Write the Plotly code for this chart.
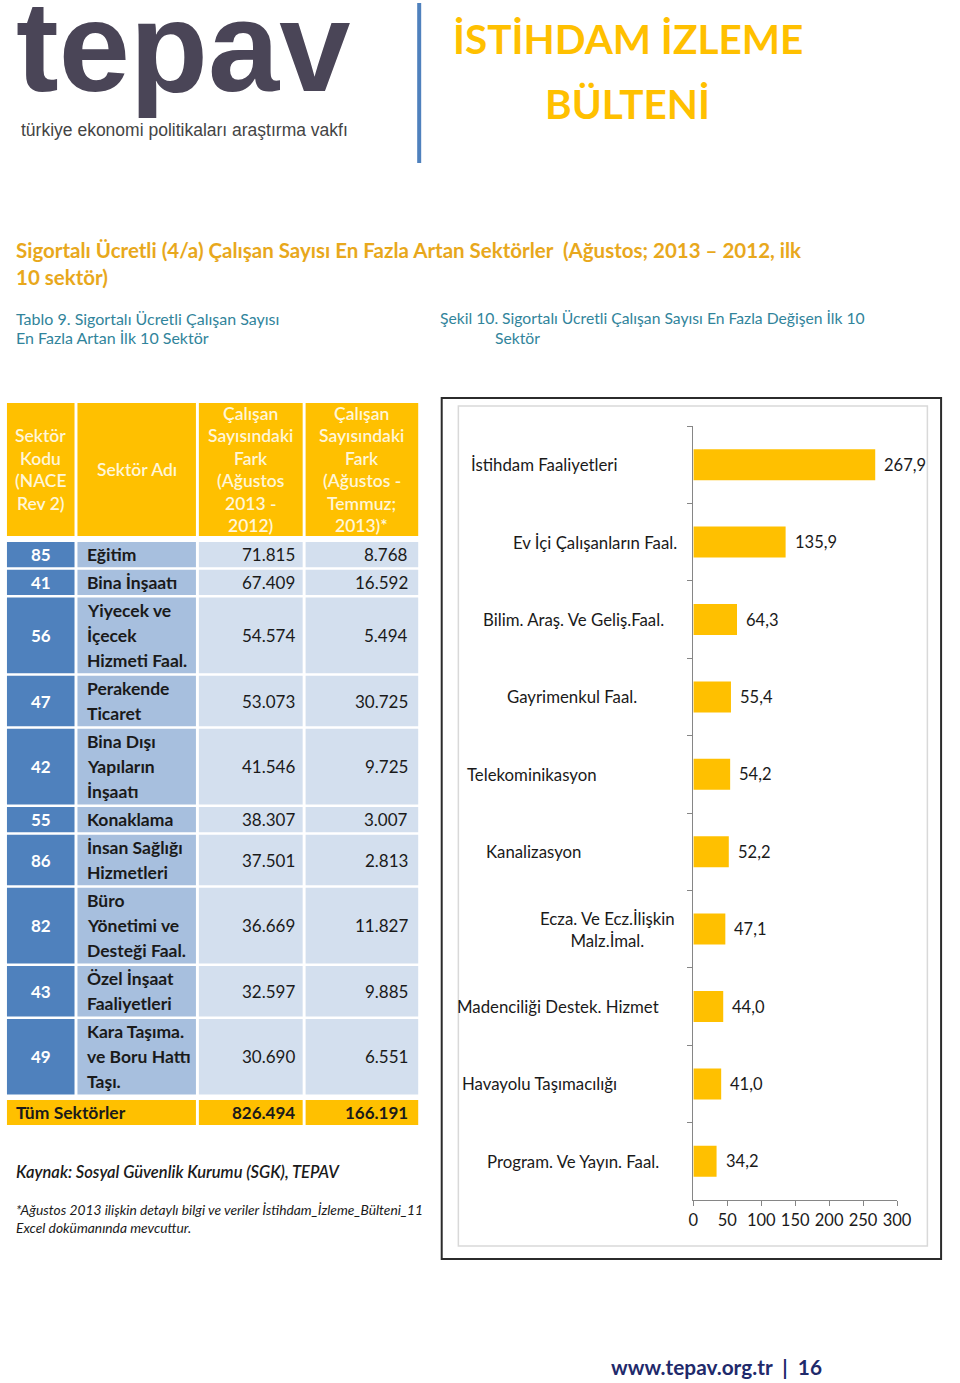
import plotly.graph_objects as go

W, H = 960, 1383


def px(x):
    return x / W


def py(y):
    return 1 - y / H


# ---------------- data ----------------
table_codes = ["85", "41", "56", "47", "42", "55", "86", "82", "43", "49"]
table_names = [
    "Eğitim",
    "Bina İnşaatı",
    "Yiyecek ve<br>İçecek<br>Hizmeti Faal.",
    "Perakende<br>Ticaret",
    "Bina Dışı<br>Yapıların<br>İnşaatı",
    "Konaklama",
    "İnsan Sağlığı<br>Hizmetleri",
    "Büro<br>Yönetimi ve<br>Desteği Faal.",
    "Özel İnşaat<br>Faaliyetleri",
    "Kara Taşıma.<br>ve Boru Hattı<br>Taşı.",
]
diff_year = [71815, 67409, 54574, 53073, 41546, 38307, 37501, 36669, 32597, 30690]
diff_month = [8768, 16592, 5494, 30725, 9725, 3007, 2813, 11827, 9885, 6551]
total_label = "Tüm Sektörler"
total_year = 826494
total_month = 166191
header_texts = [
    "Sektör<br>Kodu<br>(NACE<br>Rev 2)",
    "Sektör Adı",
    "Çalışan<br>Sayısındaki<br>Fark<br>(Ağustos<br>2013 -<br>2012)",
    "Çalışan<br>Sayısındaki<br>Fark<br>(Ağustos -<br>Temmuz;<br>2013)*",
]

sectors = [
    "İstihdam Faaliyetleri",
    "Ev İçi Çalışanların Faal.",
    "Bilim. Araş. Ve Geliş.Faal.",
    "Gayrimenkul Faal.",
    "Telekominikasyon",
    "Kanalizasyon",
    "Ecza. Ve Ecz.İlişkin<br>Malz.İmal.",
    "Madenciliği Destek. Hizmet",
    "Havayolu Taşımacılığı",
    "Program. Ve Yayın. Faal.",
]
change_pct = [267.9, 135.9, 64.3, 55.4, 54.2, 52.2, 47.1, 44.0, 41.0, 34.2]
x_ticks = [0, 50, 100, 150, 200, 250, 300]

# ---------------- styles ----------------
FONT = "Lato"
GOLD = "#FFC000"
BLUE_DARK = "#4F81BD"
BLUE_MID = "#A7BFDE"
BLUE_LIGHT = "#D3DFEE"
TEXT = "#1a1a1a"
label_cx = [550, 603, 581, 579, 538, 540, 615, 565, 546, 580]  # label centres (px)


def tr(v):
    return f"{v:,}".replace(",", ".")


fig = go.Figure()

fig.add_trace(
    go.Bar(
        x=change_pct,
        y=sectors,
        orientation="h",
        marker=dict(color=GOLD, line=dict(width=0)),
        width=0.4,
        hoverinfo="skip",
    )
)

shapes = []
annotations = []


def rect(x0, y0, x1, y1, color, line=None):
    shapes.append(
        dict(
            type="rect", xref="paper", yref="paper",
            x0=px(x0), x1=px(x1), y0=py(y1), y1=py(y0),
            fillcolor=color,
            line=line if line else dict(width=0),
            layer="below",
        )
    )


def text(x, y, s, size=16, color=TEXT, xanchor="center", yanchor="middle",
         weight="normal", family=FONT, style="normal"):
    annotations.append(
        dict(
            xref="paper", yref="paper", x=px(x), y=py(y), text=s,
            showarrow=False, xanchor=xanchor, yanchor=yanchor,
            align=xanchor, borderpad=0,
            font=dict(size=size, color=color, family=family, weight=weight, style=style),
        )
    )


def lines(x, cy, s, spacing, **kw):
    parts = s.split("<br>")
    n = len(parts)
    for i, p in enumerate(parts):
        text(x, cy + (i - (n - 1) / 2) * spacing, p, **kw)


# ---------------- header block ----------------
text(10, 46, "tepav", size=128, color="#4A4557", xanchor="left",
     weight="bold", family="Liberation Sans")
text(15, 130, "türkiye ekonomi politikaları araştırma vakfı", size=17.5,
     color="#444444", xanchor="left", family="Liberation Sans")
shapes.append(dict(type="line", xref="paper", yref="paper", x0=px(423), x1=px(423),
                   y0=py(163), y1=py(3), line=dict(color=BLUE_DARK, width=4)))
text(636, 38, "İSTİHDAM İZLEME", size=40.5, color=GOLD, weight="bold")
text(636, 103, "BÜLTENİ", size=40.5, color=GOLD, weight="bold")

ORANGE = "#E8A81C"
text(10, 250, "Sigortalı Ücretli (4/a) Çalışan Sayısı En Fazla Artan Sektörler  (Ağustos; 2013 – 2012, ilk",
     size=20.5, color=ORANGE, xanchor="left", weight="bold")
text(10, 277, "10 sektör)", size=20.5, color=ORANGE, xanchor="left", weight="bold")

TEAL = "#31849B"
text(10, 318, "Tablo 9. Sigortalı Ücretli Çalışan Sayısı", size=16, color=TEAL, xanchor="left")
text(10, 338, "En Fazla Artan İlk 10 Sektör", size=16, color=TEAL, xanchor="left")
text(443, 318, "Şekil 10. Sigortalı Ücretli Çalışan Sayısı En Fazla Değişen İlk 10",
     size=15.7, color=TEAL, xanchor="left")
text(499, 338, "Sektör", size=15.7, color=TEAL, xanchor="left")

# ---------------- table ----------------
cols = [(2, 71), (74, 195), (198, 304), (307, 422)]
hdr_top, hdr_bot = 403, 536
for (x0, x1), h in zip(cols, header_texts):
    rect(x0, hdr_top, x1, hdr_bot, GOLD)
    lines((x0 + x1) / 2, (hdr_top + hdr_bot) / 2, h, 22.4, size=17.5,
          color="#FFF6D8", weight=600)

y = 542.0
for code, name, a, b in zip(table_codes, table_names, diff_year, diff_month):
    n = name.count("<br>") + 1
    h = 25.2 * n
    y0, y1 = y, y + h
    rect(cols[0][0], y0, cols[0][1], y1, BLUE_DARK)
    rect(cols[1][0], y0, cols[1][1], y1, BLUE_MID)
    rect(cols[2][0], y0, cols[2][1], y1, BLUE_LIGHT)
    rect(cols[3][0], y0, cols[3][1], y1, BLUE_LIGHT)
    cy = (y0 + y1) / 2
    text(37, cy, code, size=17, color="white", weight="bold")
    lines(83, cy, name, 25, size=17.5, color=TEXT, xanchor="left", weight="bold")
    text(297, cy, tr(a), size=17, color=TEXT, xanchor="right")
    text(413, cy, tr(b), size=17, color=TEXT, xanchor="right")
    y = y1 + 2.6

rect(2, 1100, 195, 1125, GOLD)
rect(198, 1100, 304, 1125, GOLD)
rect(307, 1100, 422, 1125, GOLD)
text(10, 1112.5, total_label, size=17.5, color=TEXT, xanchor="left", weight="bold")
text(297, 1112.5, tr(total_year), size=17, color=TEXT, xanchor="right", weight="bold")
text(413, 1112.5, tr(total_month), size=17, color=TEXT, xanchor="right", weight="bold")

text(10, 1172, "<i>Kaynak: Sosyal Güvenlik Kurumu (SGK), TEPAV</i>", size=16.5,
     color=TEXT, xanchor="left", weight=600)
text(10, 1209, "<i>*Ağustos 2013 ilişkin detaylı bilgi ve veriler İstihdam_İzleme_Bülteni_11</i>",
     size=13.8, color=TEXT, xanchor="left")
text(10, 1227, "<i>Excel dokümanında mevcuttur.</i>", size=13.8, color=TEXT, xanchor="left")

# ---------------- chart frame ----------------
rect(446, 398, 956, 1259, "rgba(0,0,0,0)", line=dict(color="#2b2b2b", width=2))
rect(463, 406, 942, 1246, "rgba(0,0,0,0)", line=dict(color="#D9D9D9", width=1.5))

for s, v, cx in zip(sectors, change_pct, label_cx):
    annotations.append(dict(
        xref="paper", yref="y", x=px(cx), y=s, text=s, showarrow=False,
        xanchor="center", yanchor="middle", align="center",
        font=dict(size=16.8, color=TEXT, family=FONT),
    ))
    annotations.append(dict(
        xref="x", yref="y", x=v, y=s, text=f"{v:.1f}".replace(".", ","),
        showarrow=False, xanchor="left", yanchor="middle", xshift=7,
        font=dict(size=16.5, color=TEXT, family=FONT),
    ))

# footer
text(727, 1366, "www.tepav.org.tr  |  16", size=20.8, color="#1F2A6B", weight="bold")

fig.update_layout(
    width=W, height=H, autosize=False,
    margin=dict(l=0, r=0, t=0, b=0),
    paper_bgcolor="white", plot_bgcolor="rgba(0,0,0,0)",
    showlegend=False,
    shapes=shapes,
    annotations=annotations,
    bargap=0.6,
    xaxis=dict(
        domain=[px(703), px(911)], range=[0, 300],
        tickvals=x_ticks, ticktext=[str(t) for t in x_ticks],
        showgrid=False, zeroline=False,
        showline=True, linecolor="#868686", linewidth=1,
        ticks="outside", ticklen=5, tickcolor="#868686",
        tickfont=dict(size=16.5, color=TEXT, family=FONT),
        anchor="y", fixedrange=True,
    ),
    yaxis=dict(
        domain=[py(1200), py(426)],
        categoryorder="array", categoryarray=sectors,
        autorange="reversed",
        showticklabels=False, showgrid=False, zeroline=False,
        showline=True, linecolor="#868686", linewidth=1,
        ticks="outside", ticklen=5, tickcolor="#868686",
        tickson="boundaries",
        anchor="x", fixedrange=True,
    ),
)

post = (
    "document.documentElement.style.margin='0';"
    "document.documentElement.style.overflow='hidden';"
    "document.body.style.margin='0';"
    "document.body.style.overflow='hidden';"
    "var gd=document.getElementById('{plot_id}');"
    "Plotly.relayout(gd,{width:960,height:1383});"
)
fig.write_html("out.html", config={"responsive": False, "displayModeBar": False},
               post_script=post)
